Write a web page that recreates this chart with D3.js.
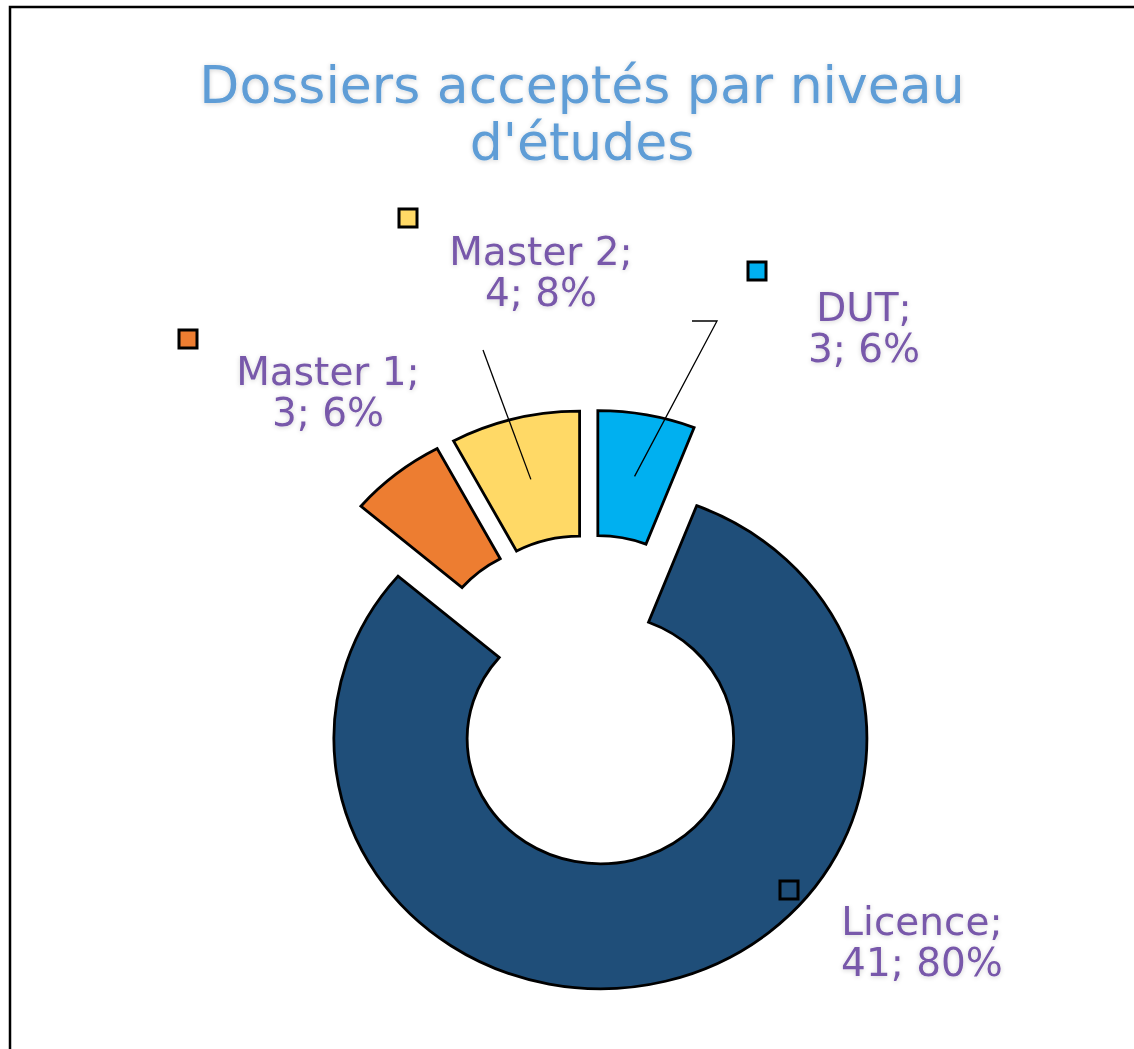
<!DOCTYPE html>
<html>
<head>
<meta charset="utf-8">
<script src="https://cdn.jsdelivr.net/npm/d3@7"></script>
<style>
  body { margin: 0; background: #fff; }
  svg { display: block; }
</style>
</head>
<body>
<div id="chart"></div>
<script>
// data
const categories = ["DUT", "Licence", "Master 1", "Master 2"];
const values = [3, 41, 3, 4];
const colors = ["#00B0F0", "#1F4E79", "#ED7D31", "#FFD966"];
const titleLines = ["Dossiers acceptés par niveau", "d'études"];

// layout (label boxes were moved by hand in the original chart)
const W = 1134, H = 1049;
const center = {x: 590, y: 700};
const stretchX = 1.066;
const outerR = 250, innerR = 125, explode = 40;
const labelLayout = {
  "DUT":      {x: 864, y: 321, key: [757, 271], leader: [[717, 321], [692, 321]]},
  "Licence":  {x: 922, y: 935, key: [789, 890], leader: null},
  "Master 1": {x: 328, y: 385, key: [188, 339], leader: null},
  "Master 2": {x: 541, y: 265, key: [408, 218], leader: [[483, 350]]}
};

const svg = d3.select("#chart").append("svg")
    .attr("width", W)
    .attr("height", H);

// soft glow like the excel text effect
const defs = svg.append("defs");
const glow = defs.append("filter").attr("id", "glow")
    .attr("x", "-10%").attr("y", "-30%").attr("width", "120%").attr("height", "160%");
glow.append("feGaussianBlur").attr("in", "SourceAlpha").attr("stdDeviation", 2.5).attr("result", "b");
glow.append("feOffset").attr("in", "b").attr("dy", 1).attr("result", "o");
glow.append("feComponentTransfer").attr("in", "o").attr("result", "s")
  .append("feFuncA").attr("type", "linear").attr("slope", 0.18);
const merge = glow.append("feMerge");
merge.append("feMergeNode").attr("in", "s");
merge.append("feMergeNode").attr("in", "SourceGraphic");

// frame
svg.append("rect")
    .attr("x", 10).attr("y", 7)
    .attr("width", W).attr("height", H)
    .attr("fill", "none")
    .attr("stroke", "#000")
    .attr("stroke-width", 2.5);

// title
svg.append("text")
    .attr("x", 582)
    .attr("y", 103)
    .attr("text-anchor", "middle")
    .attr("font-family", "DejaVu Sans, Verdana, sans-serif")
    .attr("font-size", 52)
    .attr("fill", "#5E9DD6")
    .attr("filter", "url(#glow)")
    .selectAll("tspan")
    .data(titleLines)
    .join("tspan")
        .attr("x", 582)
        .attr("dy", (d, i) => i === 0 ? 0 : 57)
        .text(d => d);

const data = categories.map((c, i) => ({name: c, value: values[i], color: colors[i]}));
const total = d3.sum(values);
const pct = d3.format(".0%");

const pie = d3.pie().sort(null).value(d => d.value);
const arc = d3.arc().innerRadius(innerR).outerRadius(outerR);
const arcs = pie(data);

// offset of each exploded slice (pie frame)
function shift(a) {
  const mid = (a.startAngle + a.endAngle) / 2;
  return [explode * Math.sin(mid), -explode * Math.cos(mid)];
}
// pie frame -> screen
function toScreen(p) {
  return [center.x + p[0] * stretchX, center.y + p[1]];
}

const g = svg.append("g")
    .attr("transform", "translate(" + center.x + "," + center.y + ") scale(" + stretchX + ",1)");

g.selectAll("path")
    .data(arcs)
    .join("path")
        .attr("transform", d => "translate(" + shift(d) + ")")
        .attr("d", arc)
        .attr("fill", d => d.data.color)
        .attr("stroke", "#000")
        .attr("stroke-width", 2.8)
        .attr("stroke-linejoin", "miter")
        .attr("vector-effect", "non-scaling-stroke");

// leader lines
const line = d3.line();
arcs.forEach(a => {
  const lay = labelLayout[a.data.name];
  if (!lay.leader) return;
  const s = shift(a);
  const c = arc.centroid(a);
  const end = toScreen([c[0] + s[0], c[1] + s[1]]);
  svg.append("path")
      .attr("d", line([end].concat(lay.leader)))
      .attr("fill", "none")
      .attr("stroke", "#000")
      .attr("stroke-width", 1.3);
});

// legend keys
svg.selectAll("rect.key")
    .data(arcs)
    .join("rect")
        .attr("class", "key")
        .attr("x", d => labelLayout[d.data.name].key[0] - 9)
        .attr("y", d => labelLayout[d.data.name].key[1] - 9)
        .attr("width", 18)
        .attr("height", 18)
        .attr("fill", d => d.data.color)
        .attr("stroke", "#000")
        .attr("stroke-width", 3);

// data labels
const labels = svg.selectAll("text.lbl")
    .data(arcs)
    .join("text")
        .attr("class", "lbl")
        .attr("text-anchor", "middle")
        .attr("font-family", "DejaVu Sans, Verdana, sans-serif")
        .attr("font-size", 39)
        .attr("fill", "#7858AA")
        .attr("filter", "url(#glow)")
        .attr("y", d => labelLayout[d.data.name].y);

labels.append("tspan")
    .attr("x", d => labelLayout[d.data.name].x)
    .text(d => d.data.name + ";");
labels.append("tspan")
    .attr("x", d => labelLayout[d.data.name].x)
    .attr("dy", 41)
    .text(d => d.data.value + "; " + pct(d.data.value / total));
</script>
</body>
</html>
